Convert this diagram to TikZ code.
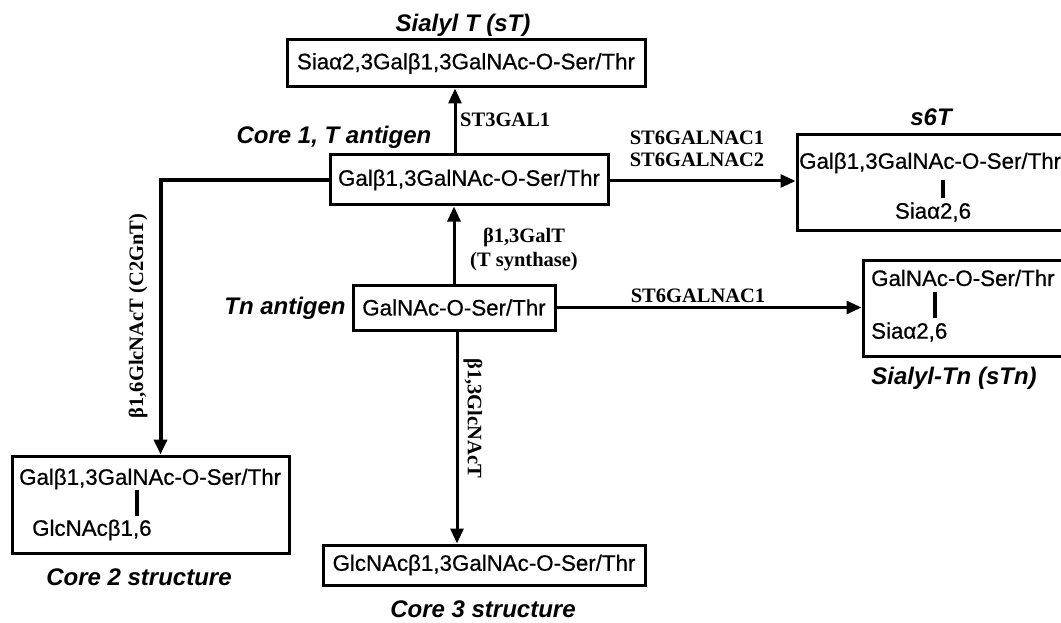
\documentclass[tikz,border=0pt]{standalone}
\usepackage{fontspec}
\setmainfont{Liberation Sans}
\newfontface\mysans{Liberation Sans}[FakeBold=0.6]
\newfontfamily\myserif{Liberation Serif}
\newfontfamily\mytitle{Liberation Sans}
\usetikzlibrary{arrows.meta}
\tikzset{
  box/.style={draw, line width=3pt, inner sep=0pt, font=\mysans\fontsize{22.3}{24}\selectfont},
  txt/.style={inner sep=0pt, font=\mysans\fontsize{22.3}{24}\selectfont},
  enz/.style={inner sep=0pt, font=\myserif\bfseries\fontsize{20.5}{23}\selectfont},
  ttl/.style={inner sep=0pt, font=\mytitle\bfseries\itshape\fontsize{24}{27}\selectfont},
  arr/.style={line width=3pt, -{Triangle[length=15pt,width=13pt]}},
  bar/.style={line width=4pt},
}
\begin{document}
\begin{tikzpicture}[x=1pt,y=-1pt]
\useasboundingbox (0,0) rectangle (1061,623);
\clip (0,0) rectangle (1061,623);
% boxes
\node[box, minimum width=358pt, minimum height=47pt] (sT) at (466,63.5) {Siaα2,3Galβ1,3GalNAc-O-Ser/Thr};
\node[box, minimum width=278pt, minimum height=50pt] (core1) at (469,180) {Galβ1,3GalNAc-O-Ser/Thr};
\node[box, minimum width=202pt, minimum height=45pt] (Tn) at (454,307.5) {GalNAc-O-Ser/Thr};
\node[box, minimum width=322pt, minimum height=40pt] (core3) at (484,565) {GlcNAcβ1,3GalNAc-O-Ser/Thr};
\node[box, minimum width=277pt, minimum height=97pt] (core2) at (150.5,504.5) {};
\node[box, minimum width=278pt, minimum height=95pt] (s6T) at (936,182.5) {};
\node[box, minimum width=207pt, minimum height=96pt] (sTn) at (966.5,308) {};
% box contents
\node[txt, anchor=west] (c2a) at (19,479) {Galβ1,3GalNAc-O-Ser/Thr};
\node[txt, anchor=west] (c2b) at (32,530) {GlcNAcβ1,6};
\coordinate (c2t) at (137,490);
\coordinate (c2u) at (137,516);
\draw[bar] (c2t) -- (c2u);
\node[txt, anchor=west] (s6a) at (799,163) {Galβ1,3GalNAc-O-Ser/Thr};
\node[txt] (s6b) at (933,212) {Siaα2,6};
\coordinate (s6t) at (943,180);
\coordinate (s6u) at (943,198);
\draw[bar] (s6t) -- (s6u);
\node[txt, anchor=west] (sTna) at (871,278) {GalNAc-O-Ser/Thr};
\node[txt, anchor=west] (sTnb) at (871,332) {Siaα2,6};
\coordinate (sTnt) at (935,292);
\coordinate (sTnu) at (935,318);
\draw[bar] (sTnt) -- (sTnu);
% titles
\node[ttl] (tsT) at (463,25) {Sialyl T (sT)};
\node[ttl] (tc1) at (334,137) {Core 1, T antigen};
\node[ttl] (ts6T) at (931,117) {s6T};
\node[ttl] (tTn) at (285,308) {Tn antigen};
\node[ttl] (tsTn) at (954,378) {Sialyl-Tn (sTn)};
\node[ttl] (tc2) at (139,577) {Core 2 structure};
\node[ttl] (tc3) at (483,609) {Core 3 structure};
% connectors
\draw[arr] ([xshift=-14pt]core1.north) -- ([xshift=-14pt]core1.north |- sT.south);
\draw[arr] (Tn.north) -- (Tn.north |- core1.south);
\draw[arr] ([xshift=3pt]Tn.south) -- ([xshift=3pt]Tn.south |- core3.north);
\draw[arr] ([yshift=-1pt]core1.east) -- ([yshift=-1pt]core1.east -| s6T.west);
\draw[arr] (Tn.east) -- (Tn.east -| sTn.west);
\draw[arr, line width=4pt] (core1.west) -| ([xshift=10pt]core2.north);
% enzyme labels
\node[enz, anchor=west] (e1) at (460,120) {ST3GAL1};
\node[enz] (e2) at (524,237) {β1,3GalT};
\node[enz] (e3) at (524,262) {(T synthase)};
\node[enz] (e4) at (697,138) {ST6GALNAC1};
\node[enz] (e5) at (697,160) {ST6GALNAC2};
\node[enz] (e6) at (698,296) {ST6GALNAC1};
\node[enz, rotate=90] (e7) at (138,316) {β1,6GlcNAcT (C2GnT)};
\node[enz, rotate=-90] (e8) at (473,418) {β1,3GlcNAcT};
\end{tikzpicture}
\end{document}
